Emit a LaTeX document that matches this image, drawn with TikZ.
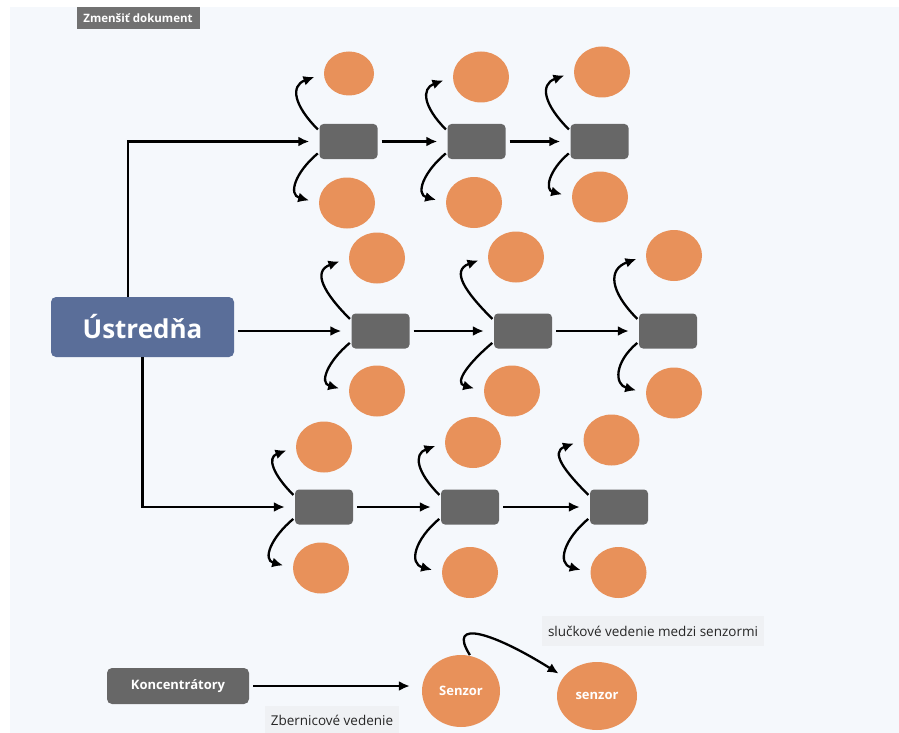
\documentclass[tikz,border=0pt]{standalone}
\usepackage{fontspec}
\setmainfont{Open Sans}
\usetikzlibrary{arrows.meta,shapes.geometric}
\definecolor{panelbg}{HTML}{F5F8FC}
\definecolor{labelbg}{HTML}{EFF1F4}
\definecolor{hubblue}{HTML}{5A6E99}
\definecolor{concgray}{HTML}{676767}
\definecolor{tipgray}{HTML}{717171}
\definecolor{sensororange}{HTML}{E8915A}

\begin{document}
\begin{tikzpicture}[x=1pt,y=1pt,
    hub/.style={rectangle, rounded corners=5pt, fill=hubblue, text=white, minimum width=183pt, minimum height=60pt, font=\bfseries\fontsize{26}{30}\selectfont},
    concentrator/.style={rectangle, rounded corners=4pt, fill=concgray, minimum width=58pt, minimum height=35pt},
    sensor/.style={ellipse, fill=sensororange, minimum width=56pt, minimum height=51pt, inner sep=0pt, text=white, font=\bfseries\fontsize{13}{15}\selectfont},
    caption/.style={fill=labelbg, text=black!85, inner xsep=6pt, minimum height=30pt, font=\fontsize{13.5}{16}\selectfont},
    flow/.style={line width=2.3pt, -{Latex[length=11pt,width=10pt]}, shorten >=10pt, shorten <=4pt},
    sensorup/.style={flow, shorten <=2pt, out=135, in=200, looseness=1.6},
    sensordown/.style={flow, shorten <=2pt, out=220, in=165, looseness=1.6}]

   \useasboundingbox (0,0) rectangle (899,-733);
   \fill[white] (0,0) rectangle (899,-733);
   \fill[panelbg] (10,-7) rectangle (899,-733);

   \node[rectangle, fill=tipgray, text=white, minimum width=123pt, minimum height=22pt, inner sep=0pt, font=\bfseries\fontsize{11.5}{13}\selectfont] (shrink) at (138,-18) {Zmenšiť dokument};

   \node[hub] (ustredna) at (142.5,-327) {Ústredňa};

   % koncentratory
   \node[concentrator] (r11) at (348.5,-141.5) {};
   \node[concentrator] (r12) at (476.5,-141.5) {};
   \node[concentrator] (r13) at (599.5,-141.5) {};
   \node[concentrator] (r21) at (380.5,-331)  {};
   \node[concentrator] (r22) at (523,-331)  {};
   \node[concentrator] (r23) at (668,-331)  {};
   \node[concentrator] (r31) at (324,-507)  {};
   \node[concentrator] (r32) at (470,-507)  {};
   \node[concentrator] (r33) at (619,-507)  {};

   % senzory
   \node[sensor, minimum width=50pt, minimum height=44pt] (t11) at (349,-73.5) {};
   \node[sensor] (b11) at (347,-203) {};
   \node[sensor] (t12) at (481,-77) {};
   \node[sensor] (b12) at (474,-202.5) {};
   \node[sensor] (t13) at (602,-72) {};
   \node[sensor] (b13) at (600,-197) {};
   \node[sensor] (t21) at (377,-258) {};
   \node[sensor] (b21) at (377,-391) {};
   \node[sensor] (t22) at (516,-257) {};
   \node[sensor] (b22) at (512,-391) {};
   \node[sensor] (t23) at (674,-255.5) {};
   \node[sensor] (b23) at (674,-393) {};
   \node[sensor] (t31) at (324,-447) {};
   \node[sensor] (b31) at (321,-568) {};
   \node[sensor] (t32) at (473,-442.5) {};
   \node[sensor] (b32) at (470,-572.5) {};
   \node[sensor] (t33) at (611.5,-440) {};
   \node[sensor] (b33) at (618.5,-572.5) {};

   \draw[flow, shorten <=0pt] ([xshift=-14.5pt]ustredna.north) |- (r11);
   \draw[flow] (ustredna.east |- r21) -- (r21);
   \draw[flow, shorten <=0pt] (ustredna.south) |- (r31);

   \draw[flow] (r11) -- (r12);
   \draw[flow] (r12) -- (r13);
   \draw[flow] (r21) -- (r22);
   \draw[flow] (r22) -- (r23);
   \draw[flow] (r31) -- (r32);
   \draw[flow] (r32) -- (r33);

   \draw[sensorup] (r11.160) to (t11.west);
   \draw[sensordown] (r11.200) to (b11.west);
   \draw[sensorup] (r12.160) to (t12.west);
   \draw[sensordown] (r12.200) to (b12.west);
   \draw[sensorup] (r13.160) to (t13.west);
   \draw[sensordown] (r13.200) to (b13.west);
   \draw[sensorup] (r21.160) to (t21.west);
   \draw[sensordown] (r21.200) to (b21.west);
   \draw[sensorup] (r22.160) to (t22.west);
   \draw[sensordown] (r22.200) to (b22.west);
   \draw[sensorup] (r23.160) to (t23.west);
   \draw[sensordown] (r23.200) to (b23.west);
   \draw[sensorup] (r31.160) to (t31.west);
   \draw[sensordown] (r31.200) to (b31.west);
   \draw[sensorup] (r32.160) to (t32.west);
   \draw[sensordown] (r32.200) to (b32.west);
   \draw[sensorup] (r33.160) to (t33.west);
   \draw[sensordown] (r33.200) to (b33.west);

   % legenda
   \node[concentrator, minimum width=142pt, minimum height=36pt, rounded corners=5pt, text=white, font=\bfseries\fontsize{13}{15}\selectfont] (legendconc) at (178,-686) {Koncentrátory};
   \node[sensor, minimum width=78pt, minimum height=72pt] (senzorA) at (461,-691) {Senzor};
   \node[sensor, minimum width=80pt, minimum height=68pt] (senzorB) at (597,-696) {senzor};
   \node[caption, anchor=north, minimum height=28pt] (bus) at (332,-706) {Zbernicové vedenie};
   \node[caption] (loop) at (653,-631) {slučkové vedenie medzi senzormi};

   \draw[flow, shorten >=12pt] (legendconc) -- (legendconc -| senzorA.west);
   \draw[flow, shorten >=6pt, shorten <=1pt] (senzorA.75) .. controls +(-24,38) and +(-70,44) .. (senzorB.150);
 \end{tikzpicture}
\end{document}
